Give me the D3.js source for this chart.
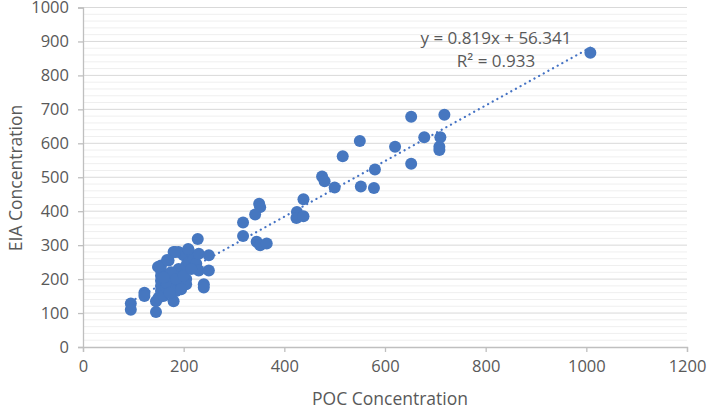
<!DOCTYPE html>
<html><head><meta charset="utf-8">
<script src="https://cdn.jsdelivr.net/npm/d3@7"></script>
<style>body{margin:0;background:#fff}svg{display:block}text{font-family:"Open Sans",sans-serif;fill:#595959}</style>
</head><body>
<script>
const pocValues = [1008,718,652,678,710,708,708,620,550,516,580,475,480,500,552,578,652,
 438,350,352,342,425,424,438,318,318,345,352,365,
 95,95,122,122,145,145,150,155,155,155,155,155,155,160,165,170,170,175,180,180,185,190,190,192,195,200,205,205,205,210,210,220,225,228,230,230,240,240,250,250,165,175,185,200,183,167,149,209,160,172,195,215];
const eiaValues = [867,684,678,618,618,590,580,590,607,562,523,502,488,470,473,468,540,
 435,422,412,390,398,380,385,367,327,310,300,305,
 128,110,160,150,103,135,145,240,225,210,195,180,165,150,175,255,200,185,280,135,165,280,230,215,190,270,240,200,185,285,250,260,245,318,275,225,185,175,270,225,190,220,200,210,280,256,236,289,205,160,170,230];
const xTicks = [0,200,400,600,800,1000,1200];
const yTicks = [0,100,200,300,400,500,600,700,800,900,1000];
const slope = 0.819, intercept = 56.341;
const eqLabel = "y = 0.819x + 56.341";
const r2Label = "R² = 0.933";
const xTitle = "POC Concentration", yTitle = "EIA Concentration";

const W=709,H=411;
const svg=d3.select("body").append("svg").attr("width",W).attr("height",H);
const x=d3.scaleLinear().domain([0,1200]).range([83,687]);
const y=d3.scaleLinear().domain([0,1000]).range([347,7.5]);

const minor=d3.range(0,1001,20).filter(v=>v%100!==0);
svg.append("g").selectAll("line").data(minor).join("line")
 .attr("x1",x(0)).attr("x2",x(1200)).attr("y1",d=>y(d)).attr("y2",d=>y(d))
 .attr("stroke","#efefef").attr("stroke-width",1);
svg.append("g").selectAll("line").data(yTicks.filter(v=>v>0)).join("line")
 .attr("x1",x(0)).attr("x2",x(1200)).attr("y1",d=>y(d)).attr("y2",d=>y(d))
 .attr("stroke","#d9d9d9").attr("stroke-width",1);

const xa=svg.append("g").attr("transform",`translate(0,${y(0)})`)
 .call(d3.axisBottom(x).tickValues(xTicks).tickFormat(d3.format("d")).tickSize(5).tickPadding(8));
const ya=svg.append("g").attr("transform",`translate(${x(0)},0)`)
 .call(d3.axisLeft(y).tickValues(yTicks).tickFormat(d3.format("d")).tickSize(5).tickPadding(9));
[xa,ya].forEach(g=>{g.selectAll("path,line").attr("stroke","#bfbfbf").attr("stroke-width",1.3);
 g.selectAll("text").style("font-size","16.5px").attr("fill","#595959").style("font-family","'Open Sans',sans-serif");});

const xmin=d3.min(pocValues), xmax=d3.max(pocValues);
svg.append("line").attr("x1",x(xmin)).attr("y1",y(slope*xmin+intercept))
 .attr("x2",x(xmax)).attr("y2",y(slope*xmax+intercept))
 .attr("stroke","#4472c4").attr("stroke-width",2.2).attr("stroke-dasharray","0.1 5.2").attr("stroke-linecap","round");

svg.append("g").selectAll("circle").data(pocValues.map((v,i)=>[v,eiaValues[i]])).join("circle")
 .attr("cx",d=>x(d[0])).attr("cy",d=>y(d[1])).attr("r",6).attr("fill","#4677c0");

svg.append("text").attr("x",496).attr("y",44).attr("text-anchor","middle").style("font-size","17px").text(eqLabel);
svg.append("text").attr("x",496).attr("y",67).attr("text-anchor","middle").style("font-size","17px").text(r2Label);

svg.append("text").attr("x",390).attr("y",405).attr("text-anchor","middle").style("font-size","17.5px").text(xTitle);
svg.append("text").attr("transform","translate(22,178) rotate(-90)").attr("text-anchor","middle").style("font-size","17.5px").text(yTitle);
</script>
</body></html>
